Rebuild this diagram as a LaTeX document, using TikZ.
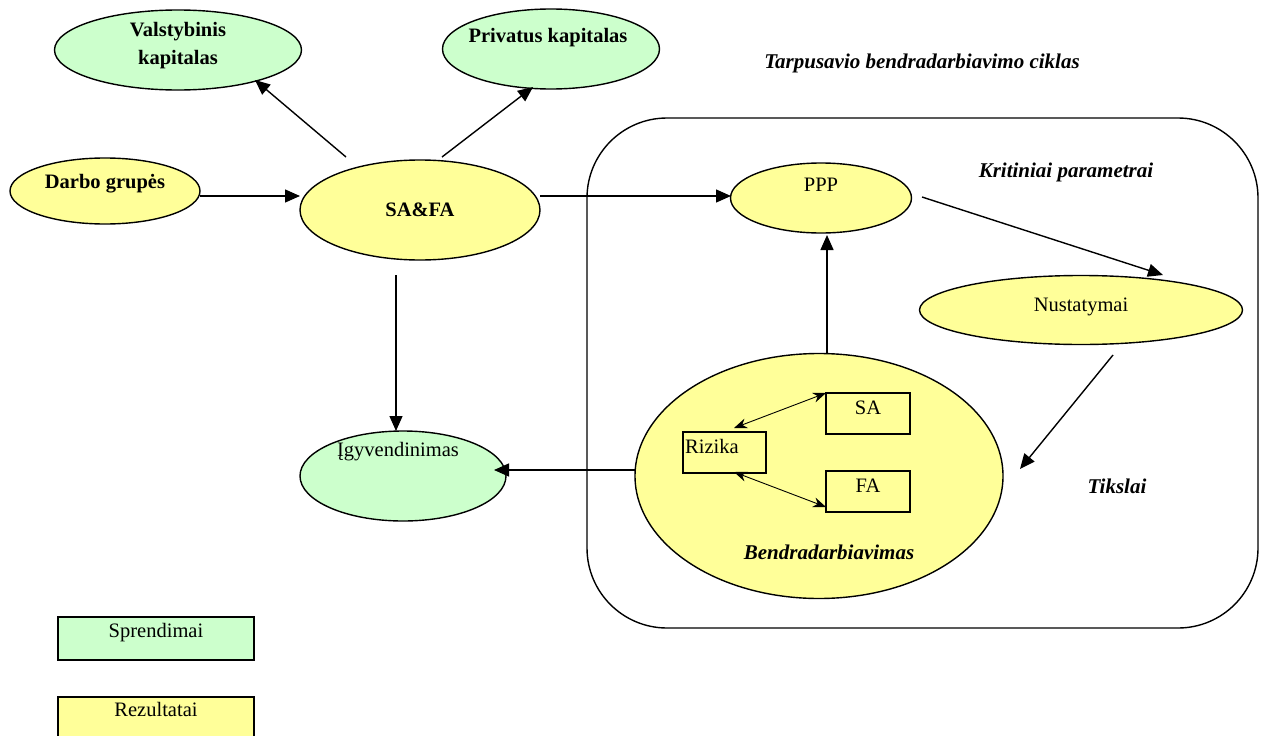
\documentclass[tikz,border=0pt]{standalone}
\usepackage{fontspec}
\setmainfont{Liberation Serif}
\usetikzlibrary{shapes.geometric,arrows.meta}
\definecolor{lgreen}{HTML}{CCFFCC}
\definecolor{lyellow}{HTML}{FFFF99}
\begin{document}
\begin{tikzpicture}[x=1pt,y=-1pt,
 ell/.style={ellipse,draw,line width=1.4pt,inner sep=0pt},
 gr/.style={ell,fill=lgreen},
 ye/.style={ell,fill=lyellow},
 arr/.style={line width=1.4pt,-{Triangle[length=15pt,width=13pt]}},
 darr/.style={line width=0.9pt,{Stealth[length=13pt,width=10pt]}-{Stealth[length=13pt,width=10pt]}},
 bx/.style={draw,line width=1.4pt,inner sep=0pt},
 lbl/.style={font=\fontsize{20.5}{24}\selectfont,inner sep=0pt},
 blbl/.style={font=\bfseries\fontsize{20.5}{28}\selectfont,inner sep=0pt,align=center},
 itl/.style={font=\bfseries\itshape\fontsize{21}{24}\selectfont,inner sep=0pt}]
\useasboundingbox (0,0) rectangle (1266,736);
\clip (0,0) rectangle (1266,736);
\fill[white] (0,0) rectangle (1266,736);

% cycle frame
\node[draw,line width=1.4pt,rounded corners=80pt,minimum width=671pt,minimum height=510pt] (cyc) at (922.5,373) {};

% ellipses
\node[gr,minimum width=247pt,minimum height=80pt] (val) at (178,50) {};
\node[blbl] (valt) at (178,46) {Valstybinis\\kapitalas};
\node[gr,minimum width=217pt,minimum height=80pt] (pri) at (551,49) {};
\node[blbl] (prit) at (548,38) {Privatus kapitalas};
\node[ye,minimum width=190pt,minimum height=66pt] (dar) at (105,191) {};
\node[blbl] (dart) at (105,184) {Darbo grupės};
\node[ye,minimum width=240pt,minimum height=100pt] (safa) at (420,210) {};
\node[blbl] (safat) at (420,210) {SA\&FA};
\node[ye,minimum width=181pt,minimum height=70pt] (ppp) at (821,198) {};
\node[lbl] (pppt) at (821,185) {PPP};
\node[ye,minimum width=323pt,minimum height=69pt] (nus) at (1081,310) {};
\node[lbl] (nust) at (1081,307) {Nustatymai};
\node[gr,minimum width=206pt,minimum height=90pt] (igy) at (403,476) {};
\node[lbl] (igyt) at (398,452) {Įgyvendinimas};
\node[ye,minimum width=368pt,minimum height=245pt] (ben) at (819,476) {};
\node[itl] (bent) at (829,552) {Bendradarbiavimas};

% boxes inside
\node[bx,fill=lyellow,minimum width=83pt,minimum height=41pt] (riz) at (724.5,452.5) {};
\node[lbl,anchor=west] (rizt) at (685,446) {Rizika};
\node[bx,fill=lyellow,minimum width=84pt,minimum height=41pt] (sa) at (868,413.5) {};
\node[lbl] (sat) at (868,408) {SA};
\node[bx,fill=lyellow,minimum width=84pt,minimum height=41pt] (fa) at (868,491.5) {};
\node[lbl] (fat) at (868,486) {FA};

% free texts
\node[itl] (tar) at (922,63) {Tarpusavio bendradarbiavimo ciklas};
\node[itl] (kri) at (1066,172) {Kritiniai parametrai};
\node[itl] (tik) at (1117,486) {Tikslai};

% legend
\node[bx,fill=lgreen,minimum width=196pt,minimum height=43pt] (leg1) at (156,638.5) {};
\node[lbl] (leg1t) at (156,633) {Sprendimai};
\node[bx,fill=lyellow,minimum width=196pt,minimum height=43pt] (leg2) at (156,718.5) {};
\node[lbl] (leg2t) at (156,709) {Rezultatai};

% connector end points
\coordinate (s1) at (346,157); \coordinate (e1) at (255,80);
\coordinate (s2) at (442,157); \coordinate (e2) at (533,87);
\coordinate (s3) at (200,196); \coordinate (e3) at (300,196);
\coordinate (s4) at (540,196); \coordinate (e4) at (731,196);
\coordinate (s5) at (396,275); \coordinate (e5) at (396,431);
\coordinate (s6) at (636,470); \coordinate (e6) at (494,470);
\coordinate (s7) at (827,353); \coordinate (e7) at (827,235);
\coordinate (s8) at (922,197); \coordinate (e8) at (1163,275);
\coordinate (s9) at (1113,355); \coordinate (e9) at (1020,469);
\coordinate (r1) at (734,428); \coordinate (q1) at (826,393);
\coordinate (r2) at (734,472); \coordinate (q2) at (826,507);

\draw[arr] (s1) -- (e1);
\draw[arr] (s2) -- (e2);
\draw[arr] (s3) -- (e3);
\draw[arr] (s4) -- (e4);
\draw[arr] (s5) -- (e5);
\draw[arr] (s6) -- (e6);
\draw[arr] (s7) -- (e7);
\draw[arr] (s8) -- (e8);
\draw[arr] (s9) -- (e9);
\draw[darr] (r1) -- (q1);
\draw[darr] (r2) -- (q2);
\end{tikzpicture}
\end{document}
